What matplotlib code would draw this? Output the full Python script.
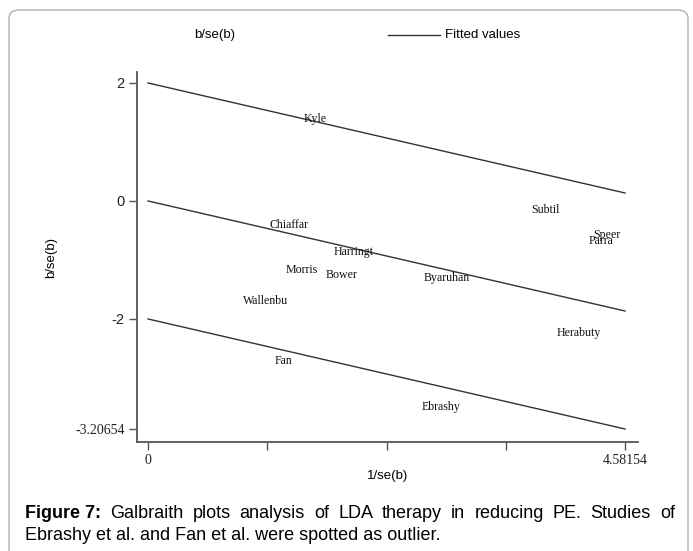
import matplotlib
matplotlib.use("Agg")
import matplotlib.pyplot as plt
from matplotlib.patches import FancyBboxPatch

# Galbraith plot data (1/se(b), b/se(b))
studies = ["Kyle", "Chiaffar", "Harringt", "Morris", "Bower", "Wallenbu", "Byaruhan",
           "Subtil", "Speer", "Parra", "Herabuty", "Fan", "Ebrashy"]
inv_se = [1.61, 1.35, 1.97, 1.48, 1.86, 1.13, 2.87, 3.82, 4.41, 4.35, 4.14, 1.30, 2.81]
z_val = [1.39, -0.41, -0.86, -1.17, -1.25, -1.69, -1.31, -0.15, -0.58, -0.68, -2.24, -2.71, -3.49]

x_max = 4.58154
slope = -0.407
x_fit = [0, x_max]
x_ticks = [0, 1.1454, 2.2908, 3.4362, 4.58154]
x_ticklabels = ["0", "", "", "", "4.58154"]
y_ticklabels = ["-3.20654", "-2", "0", "2"]

caption_bold = "Figure 7:"
caption_l1 = "Galbraith plots analysis of LDA therapy in reducing PE. Studies of"
caption_l2 = "Ebrashy et al. and Fan et al. were spotted as outlier."

W, H = 693, 551
fig = plt.figure(figsize=(W / 100, H / 100), dpi=100)
fig.patch.set_facecolor("white")

# rounded border around the figure panel
frame = FancyBboxPatch((9 / W, -0.05), 679 / W, 1 - 10 / H + 0.05,
                       boxstyle="round,pad=0,rounding_size=0.015",
                       transform=fig.transFigure, fc="none", ec="#b0b0b0", lw=1.0)
fig.patches.append(frame)

ax = fig.add_axes([137 / W, 1 - 442 / H, (638 - 137) / W, (442 - 72) / H])
ax.set_xlim(-0.106, 4.706)
ax.set_ylim(-4.085, 2.186)

line_col = "#333333"
for c in [2, 0, -2]:
    ax.plot(x_fit, [c + slope * x for x in x_fit], color=line_col, lw=1.0)

for name, x, y in zip(studies, inv_se, z_val):
    ax.text(x, y, name, ha="center", va="center", fontsize=8.6,
            family="Liberation Serif", color="#111111")

y_bottom = -2 + slope * x_max
ax.set_yticks([y_bottom, -2, 0, 2])
ax.set_yticklabels(y_ticklabels)
ax.set_xticks(x_ticks)
ax.set_xticklabels(x_ticklabels)

for sp in ["top", "right"]:
    ax.spines[sp].set_visible(False)
for sp in ["left", "bottom"]:
    ax.spines[sp].set_color("#555555")
    ax.spines[sp].set_linewidth(1.3)
ax.tick_params(axis="both", length=6, width=1.0, color="#555555", pad=3)

for lab in ax.get_yticklabels():
    if lab.get_text() == "-3.20654":
        lab.set_family("Liberation Serif")
        lab.set_fontsize(10)
    else:
        lab.set_family("Liberation Sans")
        lab.set_fontsize(10.5)
    lab.set_color("#222222")
for lab in ax.get_xticklabels():
    lab.set_family("Liberation Serif")
    lab.set_fontsize(10)
    lab.set_color("#222222")

ax.set_ylabel("b/se(b)", family="Liberation Sans", fontsize=9.5)
ax.yaxis.set_label_coords(-0.16, 0.5)
ax.set_xlabel("1/se(b)", family="Liberation Sans", fontsize=9.5)
ax.xaxis.set_label_coords(0.5, -0.075)

# legend row at top
fig.text(215 / W, 1 - 35 / H, "b/se(b)", ha="center", va="center",
         family="Liberation Sans", fontsize=9.5)
fig.add_artist(plt.Line2D([388 / W, 440 / W], [1 - 35 / H, 1 - 35 / H],
                          transform=fig.transFigure, color=line_col, lw=1.0))
fig.text(445 / W, 1 - 35 / H, "Fitted values", ha="left", va="center",
         family="Liberation Sans", fontsize=9.5)

# caption, first line justified between x=25 and x=675
fs_cap = 13
x0, x1 = 25, 675
y1, y2 = 1 - 513 / H, 1 - 536 / H
renderer = fig.canvas.get_renderer()
words = [(caption_bold, "bold")] + [(w, "normal") for w in caption_l1.split()]
arts = [fig.text(0, y1, w, family="Liberation Sans", fontweight=fw, fontsize=fs_cap,
                 va="center") for w, fw in words]
widths = [a.get_window_extent(renderer).width for a in arts]
gap = (x1 - x0 - sum(widths)) / (len(arts) - 1)
xp = x0
for a, wd in zip(arts, widths):
    a.set_x(xp / W)
    xp += wd + gap
fig.text(x0 / W, y2, caption_l2, family="Liberation Sans", fontsize=fs_cap, va="center")

fig.savefig("out.png", dpi=100)
